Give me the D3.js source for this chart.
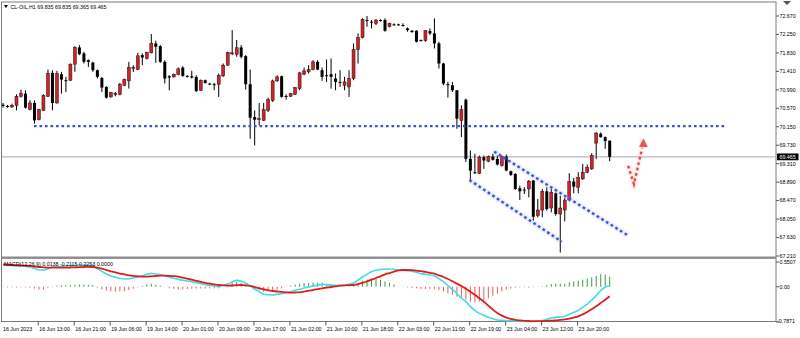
<!DOCTYPE html>
<html><head><meta charset="utf-8">
<script src="https://cdn.jsdelivr.net/npm/d3@7"></script>
<style>body{margin:0;background:#fff}svg{display:block}text{font-family:"Liberation Sans",Arial,sans-serif;fill:#000}</style>
</head><body><svg id="c" width="800" height="338"></svg>
<script>
// ---- data (H1 candles, CL-OIL) ----
const openP=[70.653,70.623,70.600,70.638,70.844,70.904,70.547,70.691,70.311,70.524,
70.844,71.376,70.691,71.346,71.209,71.209,71.574,71.955,71.818,71.665,
71.612,71.437,71.262,71.057,70.829,70.904,70.889,71.095,71.194,71.475,
71.452,71.780,71.704,71.833,72.046,71.985,71.627,71.300,71.285,71.338,
71.498,71.308,71.300,71.285,70.981,71.209,71.133,71.118,71.118,71.308,
71.551,71.818,71.795,71.955,71.757,71.118,70.372,70.311,70.296,70.524,
70.752,71.194,71.300,70.851,70.844,70.889,71.019,71.346,71.399,71.452,
71.627,71.437,71.323,71.346,71.247,71.171,71.095,71.057,71.247,71.909,
72.183,72.579,72.541,72.503,72.579,72.579,72.427,72.480,72.480,72.465,
72.388,72.335,72.335,72.122,72.107,72.327,72.274,72.046,71.589,71.118,
71.095,70.981,70.296,70.767,69.420,69.116,69.093,69.458,69.367,69.474,
69.420,69.268,69.474,69.139,69.078,68.751,68.720,68.736,68.926,68.127,
68.256,68.682,68.302,68.637,68.165,68.256,68.484,68.903,68.774,68.964,
69.116,69.192,69.778,69.991,69.915,69.835];
const highP=[70.691,70.646,70.676,70.889,70.996,70.981,70.752,70.752,70.562,70.889,
71.452,71.437,71.422,71.399,71.285,71.589,71.985,72.008,71.856,71.681,
71.627,71.452,71.285,71.072,70.943,70.943,71.148,71.247,71.627,71.551,
71.833,71.818,71.856,72.259,72.107,72.008,71.665,71.323,71.361,71.498,
71.528,71.323,71.422,71.323,71.224,71.224,71.148,71.148,71.361,71.589,
71.856,72.350,72.122,72.008,71.780,71.452,70.524,70.691,70.691,70.813,
71.224,71.323,71.315,70.889,70.919,71.057,71.399,71.498,71.551,71.665,
71.665,71.498,71.681,71.704,71.361,71.437,71.285,71.437,72.046,72.274,
72.617,72.670,72.579,72.594,72.594,72.617,72.518,72.503,72.495,72.503,
72.411,72.350,72.350,72.137,72.350,72.388,72.617,72.084,71.605,71.171,
71.171,70.981,70.638,70.790,69.611,69.535,69.496,69.496,69.496,69.535,
69.497,69.497,69.519,69.154,69.093,68.812,68.774,68.941,68.941,68.507,
68.736,68.774,68.736,68.659,68.583,68.530,69.093,68.987,69.116,69.306,
69.291,69.550,70.029,70.022,69.930,69.835];
const lowP=[70.585,70.585,70.585,70.524,70.813,70.562,70.524,70.220,70.296,70.509,
70.829,70.524,70.676,70.904,70.943,71.194,71.399,71.780,71.589,71.513,
71.399,71.247,70.943,70.790,70.813,70.844,70.866,71.072,71.019,71.399,
71.437,71.551,71.681,71.818,71.605,71.605,71.133,70.981,71.270,71.323,
71.285,71.270,71.247,70.943,70.965,71.133,71.095,70.981,70.829,71.285,
71.536,71.780,71.742,71.704,70.996,69.877,69.725,70.182,70.281,70.486,
70.714,71.171,70.813,70.767,70.829,70.874,70.981,71.323,71.361,71.437,
71.437,71.194,71.171,71.019,70.981,71.057,70.981,70.829,71.209,71.589,
72.160,72.427,72.388,72.465,72.541,72.312,72.411,72.449,72.449,72.427,
72.312,72.289,72.069,72.092,72.084,72.236,71.932,71.475,71.095,70.813,
70.943,70.105,69.915,69.350,68.926,69.078,69.078,69.192,69.344,69.382,
69.268,69.245,69.139,69.032,68.713,68.484,68.621,68.545,68.013,68.089,
68.089,68.241,68.203,68.127,67.290,67.997,68.454,68.637,68.637,68.941,
69.093,69.169,69.420,69.900,69.649,69.365];
const closeP=[70.623,70.600,70.638,70.844,70.904,70.585,70.691,70.296,70.539,70.866,
71.361,70.691,71.361,71.224,71.201,71.574,71.955,71.802,71.627,71.627,
71.437,71.285,71.041,70.813,70.927,70.912,71.118,71.224,71.498,71.498,
71.764,71.726,71.840,72.046,71.970,71.627,71.247,71.270,71.346,71.468,
71.308,71.285,71.270,70.965,71.209,71.148,71.118,71.110,71.323,71.551,
71.840,71.833,71.947,71.742,71.118,70.357,70.311,70.334,70.539,70.767,
71.194,71.285,70.829,70.844,70.904,71.041,71.376,71.422,71.452,71.627,
71.452,71.285,71.308,71.285,71.171,71.156,71.171,71.247,71.909,72.183,
72.594,72.556,72.518,72.579,72.564,72.335,72.503,72.465,72.465,72.457,
72.350,72.305,72.084,72.107,72.335,72.274,72.046,71.589,71.133,71.095,
70.981,70.334,70.539,69.420,69.154,69.093,69.458,69.382,69.474,69.398,
69.291,69.474,69.154,69.055,68.736,68.682,68.705,68.911,68.104,68.256,
68.682,68.279,68.659,68.165,68.302,68.484,68.903,68.789,69.002,69.116,
69.230,69.497,70.006,69.915,69.824,69.465];

const macdMain=[0.491,0.476,0.469,0.462,0.462,0.454,0.439,0.410,0.372,0.372,
0.402,0.432,0.447,0.454,0.462,0.469,0.476,0.484,0.484,0.484,
0.476,0.402,0.343,0.283,0.239,0.209,0.187,0.172,0.179,0.194,
0.216,0.246,0.276,0.298,0.283,0.268,0.246,0.209,0.187,0.164,
0.142,0.127,0.112,0.090,0.068,0.045,0.031,0.016,0.001,0.031,
0.060,0.105,0.142,0.120,0.075,0.016,-0.051,-0.111,-0.170,-0.178,
-0.185,-0.170,-0.155,-0.133,-0.111,-0.081,-0.059,-0.029,-0.007,0.016,
0.031,0.053,0.045,0.038,0.031,0.031,0.031,0.053,0.083,0.149,
0.216,0.276,0.335,0.365,0.387,0.395,0.395,0.387,0.372,0.365,
0.357,0.343,0.320,0.291,0.276,0.261,0.239,0.179,0.112,0.023,
-0.059,-0.155,-0.252,-0.334,-0.445,-0.527,-0.594,-0.638,-0.683,-0.713,
-0.742,-0.750,-0.757,-0.760,-0.764,-0.768,-0.772,-0.787,-0.780,-0.770,
-0.755,-0.727,-0.698,-0.683,-0.675,-0.661,-0.616,-0.571,-0.527,-0.460,
-0.386,-0.296,-0.200,-0.081,-0.014,0.0138];
const macdSignal=[0.499,0.491,0.484,0.480,0.476,0.469,0.462,0.450,0.439,0.432,
0.424,0.424,0.424,0.424,0.424,0.428,0.432,0.435,0.439,0.443,
0.439,0.424,0.402,0.372,0.343,0.320,0.294,0.276,0.253,0.239,
0.231,0.224,0.224,0.231,0.239,0.246,0.246,0.242,0.235,0.224,
0.201,0.179,0.157,0.131,0.108,0.086,0.068,0.053,0.038,0.031,
0.023,0.027,0.034,0.038,0.031,0.016,-0.007,-0.033,-0.059,-0.081,
-0.096,-0.107,-0.114,-0.126,-0.133,-0.129,-0.126,-0.111,-0.088,-0.074,
-0.055,-0.036,-0.022,-0.007,0.008,0.023,0.031,0.034,0.038,0.060,
0.086,0.116,0.157,0.194,0.231,0.276,0.305,0.335,0.365,0.372,
0.372,0.369,0.357,0.346,0.328,0.309,0.291,0.253,0.216,0.172,
0.120,0.068,0.016,-0.044,-0.111,-0.178,-0.259,-0.334,-0.423,-0.512,
-0.586,-0.646,-0.690,-0.720,-0.742,-0.753,-0.761,-0.765,-0.768,-0.768,
-0.766,-0.761,-0.757,-0.750,-0.742,-0.731,-0.713,-0.690,-0.661,-0.616,
-0.564,-0.505,-0.438,-0.363,-0.289,-0.2115];

const priceTicks=[72.670,72.250,71.830,71.410,70.990,70.570,70.150,69.730,69.310,68.890,68.470,68.050,67.630,67.210];
const macdTicks=[0.5507,0.00,-0.7871];
const macdTickText=["0.5507","0.00","-0.7871"];
const timeTickIdx=[0,8,16,24,32,40,48,56,64,72,80,88,96,104,112,120,128];
const timeTickText=["16 Jun 2023","16 Jun 13:00","16 Jun 21:00","19 Jun 06:00","19 Jun 14:00","20 Jun 01:00","20 Jun 09:00","20 Jun 17:00","21 Jun 02:00","21 Jun 10:00","21 Jun 18:00","22 Jun 03:00","22 Jun 11:00","22 Jun 19:00","23 Jun 04:00","23 Jun 12:00","23 Jun 20:00"];
const lastPrice=69.465;
const headerText="CL-OIL,H1  69.835 69.835 69.365 69.465";
const macdHeader="MACD(12,26,9) 0.0138 -0.2115 0.2253 0.0000";
// annotations in (bar index, price)
const resistanceLine=[[6.9,70.165],[161.1,70.165]];
const channelLower=[[103.8,68.939],[124.3,67.536]];
const channelUpper=[[109.3,69.585],[138.9,67.688]];
const arrowPts=[[139.1,69.258],[140.4,68.848],[142.2,69.66]];
const arrowHead=[[142.5,69.885],[141.55,69.69],[143.45,69.69]];

// ---- layout ----
const svg=d3.select("#c");
const L=1.5, R=776, T=2, mainB=256.5, macdT=259, macdB=321.5;
const x=d3.scaleLinear().domain([0,135]).range([3.0,609.7]);
const y=d3.scaleLinear().domain([67.21,72.67]).range([256,16]);
const ym=d3.scaleLinear().domain([-0.7871,0.5507]).range([322,262]);
const FS=5.3;

const defs=svg.append("defs");
defs.append("filter").attr("id","glow").attr("x","-10%").attr("y","-50%").attr("width","120%").attr("height","200%")
  .append("feGaussianBlur").attr("stdDeviation",1.1);
defs.append("clipPath").attr("id","mainclip").append("rect").attr("x",L).attr("y",T).attr("width",R-L).attr("height",mainB-T);
defs.append("clipPath").attr("id","macdclip").append("rect").attr("x",L).attr("y",macdT).attr("width",R-L).attr("height",macdB-macdT+1);

// frame
svg.append("rect").attr("x",L).attr("y",T).attr("width",R-L).attr("height",macdB-T).attr("fill","none").attr("stroke","#7a7a7a").attr("stroke-width",1);
svg.append("rect").attr("x",L).attr("y",mainB).attr("width",R-L).attr("height",2.4).attr("fill","#8c8c8c");
// chart-shift marker
svg.append("path").attr("d","M783,1 L791,1 L787,5 Z").attr("fill","#555");

const main=svg.append("g").attr("clip-path","url(#mainclip)");
// current price line
main.append("line").attr("x1",L).attr("x2",R).attr("y1",y(lastPrice)).attr("y2",y(lastPrice)).attr("stroke","#a8a8a8").attr("stroke-width",1);

// candles
const idx=d3.range(openP.length);
const cg=main.append("g");
cg.selectAll("line.w").data(idx).join("line").attr("class","w")
  .attr("x1",i=>x(i)).attr("x2",i=>x(i)).attr("y1",i=>y(highP[i])).attr("y2",i=>y(lowP[i]))
  .attr("stroke","#000").attr("stroke-width",1);
cg.selectAll("rect.b").data(idx).join("rect").attr("class","b")
  .attr("x",i=>x(i)-1.5).attr("width",3)
  .attr("y",i=>y(Math.max(openP[i],closeP[i])))
  .attr("height",i=>Math.max(1,Math.abs(y(openP[i])-y(closeP[i]))))
  .attr("fill",i=>closeP[i]>=openP[i]?"#c8262c":"#000")
  .attr("stroke",i=>closeP[i]>=openP[i]?"#3a0a0a":"none").attr("stroke-width",0.5);

// dotted annotations
const line=d3.line().x(d=>x(d[0])).y(d=>y(d[1]));
function dotted(pts,color,glowColor){
  main.append("path").attr("d",line(pts)).attr("fill","none").attr("stroke",glowColor)
    .attr("stroke-width",3.6).attr("stroke-dasharray","3.4,2.1").attr("opacity",0.55).attr("filter","url(#glow)");
  main.append("path").attr("d",line(pts)).attr("fill","none").attr("stroke",color)
    .attr("stroke-width",2.3).attr("stroke-dasharray","2.6,2.9");
}
dotted(resistanceLine,"#3d4fd9","#8a98ee");
dotted(channelLower,"#3d4fd9","#8a98ee");
dotted(channelUpper,"#3d4fd9","#8a98ee");
dotted(arrowPts,"#e24646","#f09a9a");
main.append("path").attr("d",line(arrowHead)+"Z").attr("fill","#f2a0a0").attr("filter","url(#glow)").attr("opacity",0.8);
main.append("path").attr("d",line(arrowHead)+"Z").attr("fill","#e44a4a").attr("opacity",0.9);

// header
svg.append("path").attr("d","M4,5 L8,5 L6,8 Z").attr("fill","#000");
svg.append("text").attr("x",10.5).attr("y",8.7).attr("font-size",FS).text(headerText);

// price axis
const pa=svg.append("g");
pa.selectAll("line").data(priceTicks).join("line").attr("x1",R).attr("x2",R+3).attr("y1",d=>y(d)).attr("y2",d=>y(d)).attr("stroke","#555");
pa.selectAll("text").data(priceTicks).join("text").attr("x",R+3.5).attr("y",d=>y(d)).attr("dy","0.35em")
  .attr("font-size",FS).text(d=>d.toFixed(3));
svg.append("rect").attr("x",R+1).attr("y",y(lastPrice)-3.4).attr("width",21.5).attr("height",6.8).attr("fill","#000");
svg.append("text").attr("x",R+3.5).attr("y",y(lastPrice)).attr("dy","0.35em").attr("font-size",FS).style("fill","#fff").text(lastPrice.toFixed(3));

// MACD panel
const mg=svg.append("g").attr("clip-path","url(#macdclip)");
const hist=idx.map(i=>macdMain[i]-macdSignal[i]);
mg.selectAll("line.h").data(idx).join("line").attr("class","h")
  .attr("x1",i=>x(i)).attr("x2",i=>x(i)).attr("y1",ym(0)).attr("y2",i=>ym(hist[i]))
  .attr("stroke",i=>hist[i]>=0?"#3f9a3f":"#e85c5c").attr("stroke-width",1);
const ml=d3.line().x((d,i)=>x(i)).y(d=>ym(d)).curve(d3.curveMonotoneX);
mg.append("path").attr("d",ml(macdMain)).attr("fill","none").attr("stroke","#3fdde6").attr("stroke-width",1.6);
mg.append("path").attr("d",ml(macdSignal)).attr("fill","none").attr("stroke","#e01c1c").attr("stroke-width",1.8);
svg.append("text").attr("x",4).attr("y",266.3).attr("font-size",FS).text(macdHeader);
const ma=svg.append("g");
ma.selectAll("line").data(macdTicks).join("line").attr("x1",R).attr("x2",R+3).attr("y1",d=>ym(d)).attr("y2",d=>ym(d)).attr("stroke","#555");
ma.selectAll("text").data(macdTicks).join("text").attr("x",(d,i)=>i===2?R+1:R+3.5).attr("y",d=>Math.min(ym(d),321))
  .attr("dy","0.35em").attr("font-size",FS).text((d,i)=>macdTickText[i]);

// time axis
const ta=svg.append("g");
ta.selectAll("line").data(timeTickIdx.slice(1)).join("line").attr("x1",i=>x(i)-0.7).attr("x2",i=>x(i)-0.7)
  .attr("y1",macdB).attr("y2",macdB+4).attr("stroke","#555");
ta.selectAll("text").data(timeTickIdx).join("text").attr("x",(d,k)=>k===0?3:x(d)+0.3).attr("y",330.5)
  .attr("font-size",FS).text((d,k)=>timeTickText[k]);
</script></body></html>
